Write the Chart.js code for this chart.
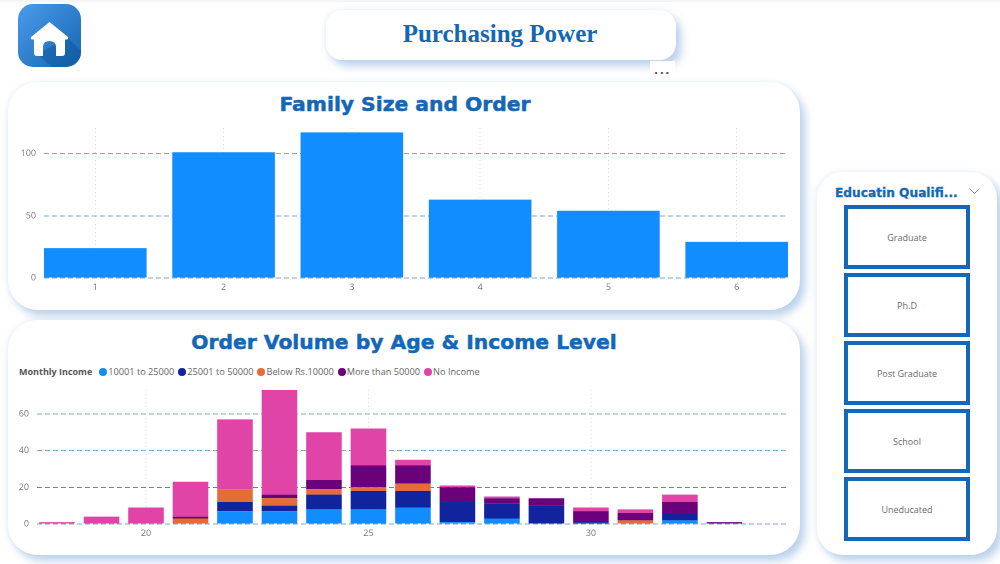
<!DOCTYPE html>
<html><head><meta charset="utf-8">
<script src="https://cdn.jsdelivr.net/npm/chart.js@4"></script>
<style>
html,body{margin:0;padding:0;background:#fff;width:1000px;height:564px;overflow:hidden;font-family:"Open Sans",sans-serif}
.abs{position:absolute}
.topline{left:0;top:0;width:1000px;height:2px;background:#f4f5f6}
.card{position:absolute;background:#fff;box-shadow:5px 6px 9px rgba(120,165,215,.5),-2px -1px 5px rgba(200,215,235,.25)}
.title{position:absolute;color:#1467B5;font:bold 20.3px "DejaVu Sans",sans-serif;text-align:center;white-space:nowrap;-webkit-text-stroke:.5px #1467B5}
canvas{position:absolute}
.slicer{position:absolute;left:844px;width:118px;height:56px;border:4px solid #1468B8;background:#fff;display:flex;align-items:center;justify-content:center;color:#6a6a6a;font-size:9px}
#legend{position:absolute;left:19px;top:365px;font-size:9.2px;color:#666;display:flex;align-items:center;white-space:nowrap;height:13px}
#legend b{color:#555;margin-right:7px;font-weight:700;font-size:9px}
#legend i{display:inline-block;width:8px;height:8px;border-radius:50%;margin-right:1px}
#legend span{margin-right:4px;display:flex;align-items:center}
</style></head><body>
<div class="abs topline"></div>
<div class="abs" style="left:18px;top:4px;width:63px;height:63px;border-radius:15px;overflow:hidden;background:linear-gradient(135deg,#4a9bec,#1565ae)">
<svg width="63" height="63" viewBox="0 0 63 63" style="display:block">
<polygon points="50,34 63,47 63,63 34,63 19,50" fill="#11599f" opacity=".55"/>
<path d="M31.5 18 L50 33 Q51 36 47 35.5 V49 Q47 52 44 52 H38 V43 Q38 37 31.5 37 Q25 37 25 43 V52 H19 Q16 52 16 49 V35.5 Q12 36 13 33 Z" fill="#fff"/>
</svg></div>

<div class="card" style="left:326px;top:10px;width:350px;height:50px;border-radius:16px"></div>
<div class="title" style="left:325px;top:20px;width:350px;font:bold 25px 'Liberation Serif',serif;-webkit-text-stroke:0">Purchasing Power</div>
<div class="abs" style="left:650px;top:61px;width:25px;height:19px;background:#fff;color:#555;font:bold 11px 'DejaVu Sans';text-align:center;line-height:25px;letter-spacing:1.5px">···</div>

<div class="card" style="left:8px;top:82px;width:792px;height:228px;border-radius:30px"></div>
<div class="title" style="left:9px;top:92px;width:792px">Family Size and Order</div>
<canvas id="c1" style="left:0;top:120px;width:800px;height:175px"></canvas>

<div class="card" style="left:8px;top:320px;width:792px;height:235px;border-radius:30px"></div>
<div class="title" style="left:8px;top:330px;width:792px">Order Volume by Age &amp; Income Level</div>
<div id="legend"></div>
<canvas id="c2" style="left:0;top:380px;width:800px;height:165px"></canvas>

<div class="card" style="left:817px;top:172px;width:180px;height:383px;border-radius:26px"></div>
<div class="title" style="left:835px;top:186px;font-size:12.2px;-webkit-text-stroke:.3px #1467B5">Educatin Qualifi...</div>
<svg class="abs" style="left:968px;top:187px" width="13" height="8"><path d="M1.5 1.5 L6.5 6.5 L11.5 1.5" fill="none" stroke="#9a9a9a" stroke-width="1"/></svg>
<div id="slicers"></div>

<script>
const familySizes=[1,2,3,4,5,6];
const familyOrders=[24,101,117,63,54,29];
const ages=[18,19,20,21,22,23,24,25,26,27,28,29,30,31,32,33];
const income10to25=[0,0,0,0,7,7,8,8,9,1,3,0,0,0,2,0];
const income25to50=[0,0,0,0,5,3,8,10,9,11,8,10,1,0,4,0];
const incomeBelow10=[0,0,0,3,7,4,3,2,4,0,0,0,0,2,0,0];
const incomeAbove50=[0,0,0,1,0,2,5,12,10,8,3,4,6,4,6,1];
const incomeNone=[1,4,9,19,38,57,26,20,3,1,1,0,2,2,4,0];
const seriesNames=["10001 to 25000","25001 to 50000","Below Rs.10000","More than 50000","No Income"];
const seriesColors=["#118DFF","#12239E","#E66C37","#6B007B","#E044A7"];
const educationLevels=["Graduate","Ph.D","Post Graduate","School","Uneducated"];

educationLevels.forEach((t,i)=>{
  const d=document.createElement('div');d.className='slicer';d.style.top=(205+i*68)+'px';d.textContent=t;
  document.getElementById('slicers').appendChild(d);
});
document.getElementById('legend').innerHTML='<b>Monthly Income</b>'+seriesNames.map((n,i)=>
  '<span><i style="background:'+seriesColors[i]+'"></i>'+n+'</span>').join('');

const font={family:'"Open Sans",sans-serif',size:9};
const hGrid=c=>c.tick.value===20?'#5f86ad':'#7fa8d0';
const noPad=s=>{s.paddingTop=0;s.paddingBottom=0;s.paddingLeft=0;s.paddingRight=0;};
function scales(xRange,step,yMax,yStep,yWidth,xHeight){
  return {
    x:{type:'linear',stacked:true,offset:false,min:xRange[0],max:xRange[1],
      grid:{color:'#d9dde2',lineWidth:1,drawTicks:false,offset:false},
      border:{display:false,dash:[1,3]},
      ticks:{stepSize:step,autoSkip:false,includeBounds:false,color:'#777',font,padding:4,maxRotation:0},
      afterFit:s=>{s.height=xHeight;noPad(s);}},
    y:{stacked:true,min:0,max:yMax,
      grid:{color:hGrid,lineWidth:1,drawTicks:false},
      border:{display:false,dash:[5,3]},
      ticks:{stepSize:yStep,includeBounds:false,color:'#777',font,padding:8},
      afterFit:s=>{s.width=yWidth;noPad(s);}}
  };
}
const base={responsive:false,animation:false,devicePixelRatio:2,
  plugins:{legend:{display:false},tooltip:{enabled:false}}};

new Chart(document.getElementById('c1'),{type:'bar',
  data:{labels:familySizes,datasets:[{data:familyOrders,backgroundColor:'#118DFF',barPercentage:.8,categoryPercentage:1}]},
  options:Object.assign({},base,{layout:{padding:{top:8,right:12,left:0,bottom:0}},
    scales:scales([.6,6.4],1,120.5,50,44,17)})
});
const c2data=[income10to25,income25to50,incomeBelow10,incomeAbove50,incomeNone];
new Chart(document.getElementById('c2'),{type:'bar',
  data:{labels:ages,datasets:c2data.map((d,i)=>({label:seriesNames[i],data:d,backgroundColor:seriesColors[i],barPercentage:.8,categoryPercentage:1}))},
  options:Object.assign({},base,{layout:{padding:{top:10,right:12,left:0,bottom:0}},
    scales:scales([17.55,34.43],5,73,20,37,21)})
});
</script>
</body></html>
